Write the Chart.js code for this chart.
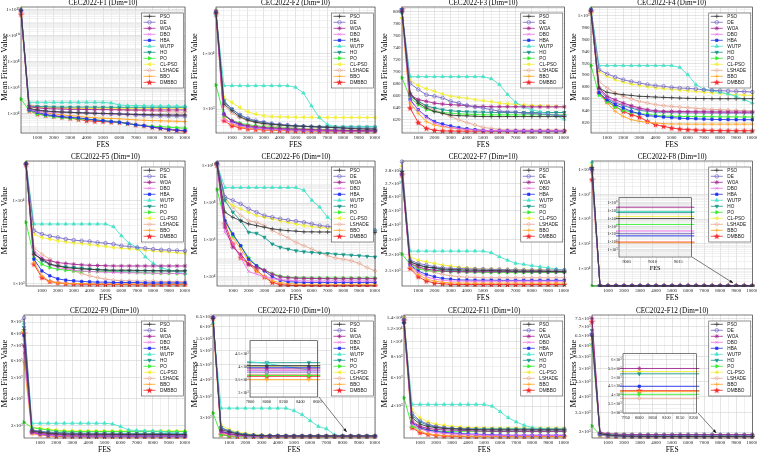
<!DOCTYPE html>
<html>
<head>
<meta charset="utf-8">
<script src="https://cdn.jsdelivr.net/npm/chart.js@4.4.0/dist/chart.umd.min.js"></script>
<style>
  body { margin: 0; background: #fff; }
  #page { position: relative; width: 757px; height: 457px; overflow: hidden; background: #fff; }
  canvas { position: absolute; }
</style>
</head>
<body>
<div id="page"></div>
<script>
// ---------- data ----------
const FES = [0,500,1000,1500,2000,2500,3000,3500,4000,4500,5000,5500,6000,6500,7000,7500,8000,8500,9000,9500,10000];
const ALGOS = ['PSO','DE','WOA','DBO','HBA','WUTP','HO','PO','CL-PSO','LSHADE','BBO','DMBBO'];
const X_TICKS = [1000,2000,3000,4000,5000,6000,7000,8000,9000,10000];
const X_LABELS = ['1000','2000','3000','4000','5000','6000','7000','8000','9000','10000'];

// one row per algorithm, in ALGOS order
const F1 = [
  [8.5e11,2.4e4,1.8e4,1.5e4,1.34e4,1.25e4,1.19e4,1.1e4,1.05e4,1.0e4,9.8e3,9.5e3,8.9e3,8.5e3,8.2e3,8.0e3,7.8e3,7.6e3,7.5e3,7.4e3,7.4e3],
  [8e11,2.15e4,1.6e4,1.45e4,1.34e4,1.25e4,1.19e4,1.1e4,1.05e4,1.0e4,9.5e3,9.0e3,8.9e3,8.2e3,7.5e3,7.0e3,6.6e3,6.3e3,6.1e3,6.0e3,5.9e3],
  [9e11,3.2e4,2.6e4,2.3e4,2.2e4,2.1e4,2.0e4,2.0e4,1.95e4,1.9e4,1.9e4,1.85e4,1.85e4,1.8e4,1.8e4,1.8e4,1.8e4,1.8e4,1.8e4,1.8e4,1.8e4],
  [7.5e11,2.15e4,1.34e4,1.25e4,1.2e4,1.19e4,1.15e4,1.1e4,1.05e4,1.0e4,9.5e3,9.0e3,8.5e3,8.0e3,7.8e3,7.6e3,7.4e3,7.2e3,7.0e3,6.8e3,6.6e3],
  [9e11,1.8e4,1.19e4,8.0e3,6.6e3,5.5e3,4.9e3,4.4e3,3.7e3,3.1e3,2.7e3,2.3e3,2.0e3,1.6e3,1.27e3,1.1e3,840,700,560,500,465],
  [1.1e12,7e4,7e4,7e4,7e4,7e4,7e4,7e4,7e4,7e4,7e4,6.2e4,4.4e4,3.9e4,3.9e4,3.8e4,3.7e4,3.6e4,3.6e4,3.5e4,3.5e4],
  [8e11,3.5e4,3.3e4,3.2e4,3.1e4,3.0e4,3.0e4,3.0e4,3.0e4,2.95e4,2.95e4,2.9e4,2.9e4,2.9e4,2.9e4,2.9e4,2.9e4,2.9e4,2.9e4,2.9e4,2.9e4],
  [1.26e5,1.6e4,8.9e3,6.6e3,5.4e3,4.5e3,4.1e3,3.7e3,3.4e3,3.1e3,2.7e3,2.3e3,2.0e3,1.6e3,1.27e3,1.1e3,1.0e3,940,840,760,700],
  [1.3e12,2.9e4,2.7e4,2.6e4,2.5e4,2.5e4,2.45e4,2.4e4,2.4e4,2.4e4,2.4e4,2.4e4,2.4e4,2.4e4,2.4e4,2.4e4,2.4e4,2.4e4,2.4e4,2.4e4,2.4e4],
  [7e11,4.4e4,3.5e4,3.0e4,2.8e4,2.6e4,2.5e4,2.4e4,2.3e4,2.2e4,2.1e4,2.0e4,1.9e4,1.8e4,1.7e4,1.6e4,1.5e4,1.4e4,1.3e4,1.25e4,1.2e4],
  [6e11,2.15e4,1.45e4,1.1e4,8.9e3,7.5e3,6.6e3,5.9e3,4.9e3,4.5e3,4.1e3,3.9e3,3.7e3,3.4e3,3.1e3,2.9e3,2.7e3,2.6e3,2.5e3,2.4e3,2.3e3],
  [4.4e11,1.6e4,8.9e3,7.0e3,5.9e3,5.0e3,4.1e3,3.4e3,2.7e3,2.4e3,2.3e3,2.1e3,2.0e3,1.7e3,1.27e3,1.1e3,840,700,560,470,410]
];
const F2 = [
  [5.5e4,1230,933,725,631,580,549,533,519,505,497,490,484,477,470,464,455,445,440,435,433],
  [6e4,1320,1000,789,680,620,580,549,530,515,500,490,480,470,465,460,455,452,450,448,445],
  [5.7e4,790,620,540,500,480,465,455,448,440,435,430,425,420,418,415,412,410,408,407,405],
  [5.0e4,650,560,500,470,450,440,432,425,420,418,415,412,410,408,407,406,405,405,404,404],
  [5.7e4,820,600,520,480,460,450,440,432,425,420,415,412,410,408,407,406,405,405,405,405],
  [5.0e4,2650,2650,2650,2650,2650,2650,2650,2650,2650,2480,1950,1150,700,530,477,477,477,477,477,477],
  [5.5e4,1420,1000,789,658,597,572,533,519,497,490,484,480,477,477,477,477,477,477,477,477],
  [2730,750,620,560,520,500,480,470,460,450,440,435,430,425,420,418,415,412,410,408,407],
  [6.1e4,1630,1320,1070,895,811,757,735,725,720,715,712,710,708,707,706,705,705,705,705,705],
  [5.3e4,1150,850,700,620,570,530,500,480,465,455,445,440,435,430,425,422,420,418,416,415],
  [5.7e4,700,540,480,450,435,425,418,414,410,408,406,405,404,403,403,402,402,401,401,401],
  [5.2e4,620,500,460,440,428,420,414,410,407,405,404,403,402,402,401,401,401,401,400,400]
];
const F3 = [
  [800,664,647,639,633,630,627,626,625.7,625,624.5,624.5,624.5,624.5,624.5,624.5,624.5,624.5,624.5,624.5,624.5],
  [802,680,670,661,658.6,655.7,650,647,643,640.4,638.7,636,633.6,632.5,631.9,630.2,629.6,629,628,626.8,626],
  [801,661,653,650,647,645.5,644.4,643.8,642.7,641.5,641.5,641,641,641,641,641,640.8,640.8,640.8,640.8,640.8],
  [800,651,636,623,614,609,606,604,603,602,601.5,601,601,600.8,600.7,600.7,600.6,600.6,600.5,600.5,600.5],
  [803,653,636,624.5,616,612,608.7,606,604,602.5,601.2,600.8,600.6,600.5,600.4,600.4,600.4,600.3,600.3,600.3,600.3],
  [798,691.4,691.4,691.4,691.4,691.4,691.4,691.4,691.4,691.4,691.4,688,678.4,661.4,648.4,640.4,636,632.5,629,625.7,620],
  [804,658.6,650,642.7,638.7,636,634.2,633,632.5,632,631.9,631.5,631.3,631.3,631.3,631.3,631.3,631.3,631.3,631.3,631.3],
  [689.7,655.7,644.4,636,633,631.3,630.2,629.1,628.5,627.9,627.4,627.4,627.4,627.4,627.4,627.4,627.4,627.4,627.4,627.4,627.4],
  [789,685.2,676.7,671,667.1,662.5,658.6,656.9,655.2,652.9,651.2,649.5,647.2,646.1,645,644,643,642.5,642,641.5,641],
  [801,658.6,650,641.5,636,630.2,624.5,619,614.3,610.4,606.4,604.7,603,602,601.9,601.9,601.9,601.9,601.9,601.9,601.9],
  [790,647.2,630.2,616,610.4,607.5,606,604,603,602,601.5,601,600.8,600.6,600.5,600.5,600.4,600.4,600.4,600.3,600.3],
  [804,638.7,614.3,604.7,601.5,600.5,600.3,600.2,600.1,600.1,600.1,600.1,600.1,600.1,600.1,600.1,600.1,600.1,600.1,600.1,600.1]
];
const F4 = [
  [1008,878,870.7,868.5,866.8,865.5,864,863.5,862.8,862.2,861.7,861.1,860.6,860.3,860.2,860,860,860,860,860,860],
  [1010,909,902,896.6,892,889,886.5,884,882,881,879,878,877.5,876.5,875,874,873.5,873,872.4,872,871.3],
  [1009,878,864,858.3,852.7,848.2,844.3,841.4,839.7,838.6,838.6,838.4,838.2,838,838,837.8,837.7,837.6,837.5,837.5,837.5],
  [1007,875,862,855,850,846,842,840,838.5,837.8,837.3,837,836.8,836.6,836.5,836.4,836.3,836.2,836.2,836.1,836],
  [1011,870,858,849.9,844.3,838.6,834.7,831.3,830.2,829,828,827,826.5,826,825.5,825,824.8,824.6,824.5,824.5,824.5],
  [1012,916,916,916,916,916,916,916,916,916,916,913,900.6,883.7,876,873.5,870.7,867.9,864,858.3,852.7],
  [1009,875,861,852.7,848.2,844.3,840.3,838.6,837.5,837,836.5,836.2,836,836,835.9,835.9,835.8,835.8,835.8,835.8,835.8],
  [916,866,855,846,840.3,837,834.7,833.6,832,830.8,830.2,830,829.8,829.6,829.5,829.4,829.3,829.2,829.1,829,829],
  [1013,906,897.7,892,888,885,882.5,880.3,878.6,877.2,875.8,874.7,873.5,872.4,871.3,870.2,869,867.9,866.8,866.2,865.6],
  [1006,889,878,869.6,864,859.4,855.5,852.7,849.9,848.2,847,845.9,844.8,843.7,842.5,842,841.4,840.8,840.3,839.7,838.6],
  [1004,869.6,852.7,838.6,830,824.5,821.7,820,818.9,817.8,817.2,817.2,817,817,817,817,817,817,817,817,817],
  [1008,870,855.5,847,838.6,833,829,821.7,816,813.2,810.4,808.7,807.6,807,806.5,806.2,806,806,805.8,805.8,805.8]
];
const F5 = [
  [2.75e4,2260,1970,1710,1630,1560,1530,1500,1490,1470,1460,1450,1450,1450,1440,1440,1430,1430,1420,1420,1420],
  [2.8e4,4340,3950,3740,3600,3440,3340,3280,3220,3130,3070,2990,2850,2800,2720,2670,2600,2550,2530,2500,2480],
  [2.7e4,2260,1970,1880,1790,1750,1710,1680,1660,1650,1640,1630,1630,1630,1630,1630,1630,1630,1630,1630,1630],
  [2.6e4,2480,2060,1710,1560,1500,1450,1420,1400,1380,1370,1360,1350,1350,1340,1340,1330,1330,1330,1320,1320],
  [2.8e4,1970,1420,1240,1140,1100,1080,1060,1050,1040,1040,1030,1030,1030,1030,1020,1020,1020,1020,1020,1020],
  [2.85e4,5230,5230,5230,5230,5230,5230,5230,5230,5230,5230,4850,3770,3050,2720,2100,1750,1560,1450,1370,1320],
  [2.75e4,2370,1880,1710,1630,1590,1560,1530,1500,1470,1450,1420,1420,1420,1420,1420,1420,1420,1420,1420,1420],
  [5470,2060,1710,1560,1490,1450,1420,1400,1400,1400,1400,1390,1380,1370,1360,1350,1340,1330,1330,1320,1320],
  [2.9e4,3950,3600,3440,3280,3190,3100,3050,2960,2880,2800,2720,2670,2630,2580,2530,2480,2440,2400,2350,2310],
  [2.7e4,2720,2260,1970,1710,1560,1420,1320,1240,1180,1130,1100,1080,1080,1070,1070,1070,1060,1060,1060,1060],
  [2.8e4,1790,1240,1060,1020,1000,1000,1000,995,995,995,990,990,990,990,990,990,990,990,990,990],
  [2.75e4,1710,1180,1060,1020,1000,990,985,980,980,975,975,975,975,970,970,970,970,970,970,970]
];
const F6 = [
  [1.4e10,3.2e7,1.7e7,1.1e7,7.4e6,6e6,4.9e6,4e6,3.5e6,3.2e6,3e6,2.75e6,2.75e6,2.7e6,2.7e6,2.65e6,2.6e6,2.6e6,2.55e6,2.5e6,2.5e6],
  [1.5e10,2.1e8,1.4e8,9.1e7,4.9e7,3.2e7,2.1e7,1.7e7,1.4e7,1.2e7,1.05e7,9.1e6,7.4e6,6e6,5.4e6,4.9e6,4.5e6,4.2e6,4e6,3.5e6,3.2e6],
  [1.4e10,4.9e6,4e5,1.7e5,4.9e4,3.2e4,2.3e4,1.4e4,1e4,9e3,8.5e3,8.3e3,8.2e3,8.1e3,8e3,8e3,8e3,8e3,8e3,8e3,8e3],
  [1.3e10,2.6e6,6e5,1.1e5,1.95e4,1.4e4,1e4,8e3,7e3,6.5e3,6.2e3,6.1e3,6e3,6e3,6e3,6e3,6e3,6e3,6e3,6e3,6e3],
  [1.3e10,1.1e7,2.1e6,4.9e5,9.1e4,4e4,2.1e4,1e4,6.5e3,5.5e3,5.2e3,5e3,5e3,5e3,5e3,5e3,5e3,5e3,5e3,5e3,5e3],
  [1.2e10,6.9e8,6.9e8,6.9e8,6.9e8,6.9e8,6.9e8,6.9e8,6.9e8,6.9e8,6.9e8,4.9e8,1.4e8,6e7,1.7e7,8.1e6,6e6,4.9e6,4.4e6,4e6,3.5e6],
  [1.4e10,1.4e8,3.2e7,1.1e7,2.6e6,2.3e6,1.4e6,6e5,4e5,3.2e5,2.6e5,2.3e5,2.1e5,1.95e5,1.86e5,1.7e5,1.6e5,1.5e5,1.4e5,1.3e5,1.2e5],
  [5.4e8,1.1e7,1.7e6,4.9e5,1.1e5,4e4,2.3e4,1.5e4,1.1e4,9.5e3,9e3,8.8e3,8.6e3,8.5e3,8.5e3,8.5e3,8.5e3,8.5e3,8.5e3,8.5e3,8.5e3],
  [1.3e10,1.4e8,7.4e7,4.9e7,3.2e7,2.1e7,1.7e7,1.4e7,1.1e7,9.1e6,7.4e6,6e6,5.4e6,4.9e6,4.5e6,4.2e6,4e6,3.7e6,3.5e6,3.3e6,3.2e6],
  [1.3e10,2.1e8,6e7,2.1e7,1.1e7,9.1e6,6e6,3.2e6,2.1e6,1.3e6,7.4e5,4.9e5,3.2e5,2.1e5,1.4e5,1.05e5,9.1e4,7.4e4,5.4e4,3.2e4,2.1e4],
  [1.2e10,1.7e7,1.4e6,3.2e5,7.4e4,2.1e4,1e4,6e3,4.8e3,4.3e3,4.1e3,4e3,4e3,4e3,4e3,4e3,4e3,4e3,4e3,4e3,4e3],
  [1.1e10,7.4e6,6e5,1.1e5,4.9e4,2.3e4,1e4,5e3,3.8e3,3.5e3,3.4e3,3.35e3,3.3e3,3.3e3,3.3e3,3.3e3,3.3e3,3.3e3,3.3e3,3.3e3,3.3e3]
];
const F7 = [
  [2795,2157,2137,2124,2120,2112,2110,2108,2106,2106,2104,2104,2102,2102,2100,2100,2100,2100,2098,2098,2096],
  [2875,2167,2147,2137,2126,2120,2116,2116,2114,2112,2112,2110,2110,2108,2108,2106,2106,2106,2106,2106,2106],
  [2780,2147,2126,2112,2106,2100,2098,2096,2096,2096,2096,2096,2096,2096,2096,2096,2096,2096,2096,2096,2096],
  [2760,2133,2092,2066,2052,2045,2041,2041,2040,2040,2040,2040,2040,2040,2040,2040,2040,2040,2040,2040,2040],
  [2770,2137,2100,2080,2066,2056,2052,2047,2047,2046,2046,2046,2045,2045,2045,2045,2045,2045,2045,2045,2045],
  [2715,2224,2224,2224,2224,2224,2224,2224,2224,2224,2224,2214,2188,2167,2147,2141,2133,2126,2120,2112,2106],
  [2790,2157,2137,2124,2116,2106,2104,2102,2100,2100,2100,2100,2098,2098,2098,2096,2096,2096,2096,2096,2096],
  [2205,2141,2112,2104,2100,2098,2096,2096,2094,2094,2092,2092,2092,2092,2092,2092,2092,2092,2092,2092,2092],
  [2838,2188,2167,2157,2147,2137,2131,2124,2120,2116,2112,2112,2111,2110,2110,2109,2108,2108,2107,2106,2106],
  [2750,2147,2120,2106,2092,2080,2072,2066,2064,2062,2060,2060,2060,2060,2060,2060,2060,2060,2060,2060,2060],
  [2795,2126,2080,2052,2041,2033,2030,2029,2029,2029,2029,2029,2029,2029,2029,2029,2029,2029,2029,2029,2029],
  [2768,2116,2066,2041,2029,2025,2021,2021,2021,2021,2021,2021,2021,2021,2021,2021,2021,2021,2021,2021,2021]
];
const F8 = [
  [1.2e8,2025,2025,2025,2025,2025,2025,2025,2025,2025,2025,2025,2025,2025,2025,2025,2025,2025,2025,2025,2025],
  [1.0e8,2021,2021,2021,2021,2021,2021,2021,2021,2021,2021,2021,2021,2021,2021,2021,2021,2021,2021,2021,2021],
  [9e7,2035,2035,2035,2035,2035,2035,2035,2035,2035,2035,2035,2035,2035,2035,2035,2035,2035,2035,2035,2035],
  [8e7,2022,2022,2022,2022,2022,2022,2022,2022,2022,2022,2022,2022,2022,2022,2022,2022,2022,2022,2022,2022],
  [1.1e8,2021,2021,2021,2021,2021,2021,2021,2021,2021,2021,2021,2021,2021,2021,2021,2021,2021,2021,2021,2021],
  [2.0e8,2030,2030,2030,2030,2030,2030,2030,2030,2030,2030,2030,2030,2030,2030,2030,2030,2030,2030,2030,2030],
  [9.5e7,2029,2029,2029,2029,2029,2029,2029,2029,2029,2029,2029,2029,2029,2029,2029,2029,2029,2029,2029,2029],
  [2030,2024,2024,2024,2024,2024,2024,2024,2024,2024,2024,2024,2024,2024,2024,2024,2024,2024,2024,2024,2024],
  [1.6e8,2027,2027,2027,2027,2027,2027,2027,2027,2027,2027,2027,2027,2027,2027,2027,2027,2027,2027,2027,2027],
  [7e7,2022,2022,2022,2022,2022,2022,2022,2022,2022,2022,2022,2022,2022,2022,2022,2022,2022,2022,2022,2022],
  [1.3e8,2020,2020,2020,2020,2020,2020,2020,2020,2020,2020,2020,2020,2020,2020,2020,2020,2020,2020,2020,2020],
  [3.9e7,2020,2020,2020,2020,2020,2020,2020,2020,2020,2020,2020,2020,2020,2020,2020,2020,2020,2020,2020,2020]
];
const F9 = [
  [8300,2845,2807,2778,2760,2750,2749,2748,2747,2746,2745,2744,2743,2742,2741,2740,2740,2740,2740,2740,2740],
  [9400,2875,2826,2800,2780,2770,2760,2755,2750,2745,2740,2738,2736,2734,2732,2731,2730,2730,2730,2730,2730],
  [7000,2807,2770,2749,2740,2730,2728,2726,2725,2724,2723,2722,2721,2720,2720,2720,2720,2720,2720,2720,2720],
  [6500,2780,2740,2720,2711,2705,2703,2702,2701,2700,2700,2700,2700,2700,2700,2700,2700,2700,2700,2700,2700],
  [7800,2800,2749,2720,2711,2700,2697,2695,2694,2693,2692,2691,2690,2690,2690,2690,2690,2690,2690,2690,2690],
  [8900,3085,3085,3085,3085,3085,3085,3085,3085,3085,3085,3063,2979,2875,2855,2845,2840,2830,2800,2780,2750],
  [8500,2875,2826,2810,2800,2790,2780,2778,2776,2775,2774,2773,2772,2771,2770,2770,2770,2770,2770,2770,2770],
  [3117,2948,2906,2875,2845,2835,2826,2826,2826,2826,2826,2826,2826,2826,2826,2826,2826,2826,2826,2826,2826],
  [8200,2948,2927,2896,2875,2855,2850,2845,2845,2845,2845,2845,2845,2845,2845,2845,2845,2845,2845,2845,2845],
  [7500,2826,2778,2749,2730,2720,2715,2710,2706,2704,2702,2701,2700,2700,2700,2700,2700,2700,2700,2700,2700],
  [5900,2760,2720,2700,2690,2684,2682,2681,2680,2680,2680,2680,2680,2680,2680,2680,2680,2680,2680,2680,2680],
  [8000,2807,2749,2711,2684,2680,2678,2677,2676,2675,2675,2675,2675,2675,2675,2675,2675,2675,2675,2675,2675]
];
const F10 = [
  [6400,2729,2682,2641,2620,2610,2605,2603,2602,2601,2600,2600,2600,2600,2600,2600,2600,2600,2600,2600,2600],
  [6450,2764,2695,2650,2625,2612,2606,2603,2601,2600,2599,2598,2598,2598,2597,2597,2597,2597,2597,2597,2597],
  [6400,2682,2641,2620,2608,2602,2599,2597,2596,2595,2595,2595,2595,2595,2595,2595,2595,2595,2595,2595,2595],
  [6350,2661,2626,2610,2600,2596,2594,2593,2592,2592,2592,2592,2592,2592,2592,2592,2592,2592,2592,2592,2592],
  [6450,2695,2650,2620,2605,2600,2598,2597,2596,2596,2596,2596,2596,2596,2596,2596,2596,2596,2596,2596,2596],
  [6200,3218,3218,3218,3218,3218,3218,3218,3218,3218,3155,3061,2923,2797,2748,2626,2600,2598,2596,2595,2594],
  [6400,2775,2700,2660,2635,2620,2612,2608,2605,2604,2603,2603,2603,2603,2603,2603,2603,2603,2603,2603,2603],
  [3100,2626,2605,2598,2594,2592,2590,2589,2588,2588,2588,2588,2588,2588,2588,2588,2588,2588,2588,2588,2588],
  [6300,2820,2729,2680,2650,2630,2618,2610,2606,2604,2602,2601,2600,2600,2600,2600,2600,2600,2600,2600,2600],
  [6400,2709,2650,2620,2605,2598,2594,2592,2591,2590,2590,2590,2590,2590,2590,2590,2590,2590,2590,2590,2590],
  [6100,2641,2610,2596,2590,2587,2585,2584,2583,2583,2583,2583,2583,2583,2583,2583,2583,2583,2583,2583,2583],
  [6420,2626,2600,2592,2588,2586,2585,2584,2584,2584,2584,2584,2584,2584,2584,2584,2584,2584,2584,2584,2584]
];
const F11 = [
  [1.3e4,3400,3100,3000,2950,2920,2900,2890,2880,2870,2860,2860,2860,2860,2860,2860,2860,2860,2860,2860,2860],
  [1.4e4,3600,3250,3100,3000,2950,2920,2900,2890,2880,2870,2865,2860,2860,2860,2860,2860,2860,2860,2860,2860],
  [1.35e4,3200,3000,2920,2880,2860,2850,2840,2830,2820,2810,2800,2800,2800,2800,2800,2800,2800,2800,2800,2800],
  [1.25e4,3100,2900,2800,2750,2720,2700,2690,2680,2670,2660,2650,2650,2650,2650,2650,2650,2650,2650,2650,2650],
  [1.3e4,3150,2950,2850,2800,2760,2740,2720,2700,2690,2680,2670,2660,2650,2650,2650,2650,2650,2650,2650,2650],
  [1.3e4,4100,4100,4100,4100,4100,4100,4100,4100,4100,4100,4000,3700,3400,3200,3050,2950,2900,2880,2870,2860],
  [1.35e4,3500,3200,3050,2980,2940,2920,2910,2900,2900,2900,2900,2900,2900,2900,2900,2900,2900,2900,2900,2900],
  [4500,3000,2900,2850,2820,2800,2790,2790,2790,2790,2790,2790,2790,2790,2790,2790,2790,2790,2790,2790,2790],
  [1.4e4,3800,3400,3200,3100,3050,3000,2980,2960,2950,2940,2930,2930,2930,2930,2930,2930,2930,2930,2930,2930],
  [1.3e4,3300,3000,2900,2800,2750,2700,2680,2660,2650,2640,2640,2640,2640,2640,2640,2640,2640,2640,2640,2640],
  [1.2e4,3000,2800,2700,2660,2640,2630,2620,2610,2610,2610,2610,2610,2610,2610,2610,2610,2610,2610,2610,2610],
  [1.35e4,2950,2750,2680,2640,2620,2610,2605,2600,2600,2600,2600,2600,2600,2600,2600,2600,2600,2600,2600,2600]
];
const F12 = [
  [6500,2961,2930,2915,2905,2900,2898,2897,2896,2895,2895,2895,2895,2895,2895,2895,2895,2895,2895,2895,2895],
  [6600,2950,2925,2912,2905,2902,2900,2899,2898,2898,2898,2898,2898,2898,2898,2898,2898,2898,2898,2898,2898],
  [7500,2990,2960,2950,2945,2942,2941,2940,2940,2940,2940,2940,2940,2940,2940,2940,2940,2940,2940,2940,2940],
  [6700,2940,2915,2905,2900,2898,2897,2896,2895,2895,2895,2895,2895,2895,2895,2895,2895,2895,2895,2895,2895],
  [6600,2945,2920,2910,2905,2902,2900,2900,2900,2900,2900,2900,2900,2900,2900,2900,2900,2900,2900,2900,2900],
  [6100,2960,2950,2945,2942,2940,2940,2940,2940,2940,2940,2940,2940,2940,2940,2940,2940,2940,2940,2940,2940],
  [6800,2965,2945,2938,2935,2933,2932,2931,2930,2930,2930,2930,2930,2930,2930,2930,2930,2930,2930,2930,2930],
  [3150,2930,2910,2900,2897,2895,2895,2895,2895,2895,2895,2895,2895,2895,2895,2895,2895,2895,2895,2895,2895],
  [6000,2975,2955,2948,2944,2942,2941,2940,2940,2940,2940,2940,2940,2940,2940,2940,2940,2940,2940,2940,2940],
  [6500,2935,2905,2895,2890,2888,2888,2888,2888,2888,2888,2888,2888,2888,2888,2888,2888,2888,2888,2888,2888],
  [6300,2925,2905,2898,2895,2893,2893,2893,2893,2893,2893,2893,2893,2893,2893,2893,2893,2893,2893,2893,2893],
  [7300,2930,2905,2898,2895,2894,2893,2893,2893,2893,2893,2893,2893,2893,2893,2893,2893,2893,2893,2893,2893]
];

const TITLES = ['CEC2022-F1 (Dim=10)','CEC2022-F2 (Dim=10)','CEC2022-F3 (Dim=10)','CEC2022-F4 (Dim=10)',
  'CEC2022-F5 (Dim=10)','CEC2022-F6 (Dim=10)','CEC2022-F7 (Dim=10)','CEC2022-F8 (Dim=10)',
  'CEC2022-F9 (Dim=10)','CEC2022-F10 (Dim=10)','CEC2022-F11 (Dim=10)','CEC2022-F12 (Dim=10)'];
const Y_MIN = [300, 370, 597, 802, 935, 3.2e3, 2012, 2000, 2640, 2560, 2550, 2860];
const Y_MAX = [1.6e12, 7e4, 808, 1015, 3e4, 1.9e10, 2880, 2.2e8, 9700, 6570, 1.45e4, 7700];
const Y_TICKS = [
  [1e4,1e6,1e8,1e10,1e12],
  [1e3,1e4],
  [620,640,660,680,700,720,740,760,780,800],
  [820,840,860,880,900,920,940,960,980,1000],
  [1e3,1e4],
  [1e4,1e6,1e8,1e10],
  [2100,2200,2300,2400,2500,2600,2700,2800],
  [1e4,1e5,1e6,1e7,1e8],
  [3000,4000,5000,6000,7000,8000,9000],
  [3000,3500,4000,4500,5000,5500,6000,6500],
  [4000,6000,8000,10000,12000,14000],
  [3000,3500,4000,4500,5000,5500,6000,6500,7000,7500]
];
const Y_LABELS = [
  ['1×10⁴','1×10⁶','1×10⁸','1×10¹⁰','1×10¹²'],
  ['1×10³','1×10⁴'],
  ['620','640','660','680','700','720','740','760','780','800'],
  ['820','840','860','880','900','920','940','960','980','1×10³'],
  ['1×10³','1×10⁴'],
  ['1×10⁴','1×10⁶','1×10⁸','1×10¹⁰'],
  ['2.1×10³','2.2×10³','2.3×10³','2.4×10³','2.5×10³','2.6×10³','2.7×10³','2.8×10³'],
  ['1×10⁴','1×10⁵','1×10⁶','1×10⁷','1×10⁸'],
  ['3×10³','4×10³','5×10³','6×10³','7×10³','8×10³','9×10³'],
  ['3×10³','3.5×10³','4×10³','4.5×10³','5×10³','5.5×10³','6×10³','6.5×10³'],
  ['4×10³','6×10³','8×10³','1×10⁴','1.2×10⁴','1.4×10⁴'],
  ['3×10³','3.5×10³','4×10³','4.5×10³','5×10³','5.5×10³','6×10³','6.5×10³','7×10³','7.5×10³']
];
const Y_LOG = [true,true,false,false,true,true,true,true,true,true,true,true];
const DATA = [F1,F2,F3,F4,F5,F6,F7,F8,F9,F10,F11,F12];

const F8_ZOOM_X = [9000, 9500];
const F8_ZOOM = [[1e7,1e7],[1.3e5,1.3e5],[2.8e8,2.8e8],[2.6e5,2.6e5],[6.2e4,6.2e4],[8.1e7,8.1e7],
  [6.2e7,6.2e7],[1.8e6,1.8e6],[1.9e7,1.9e7],[7.6e3,7.6e3],[8.9e3,8.9e3],[1e4,1e4]];
const F8_ZOOM_TICKS = [1e3,1e4,1e5,1e6,1e7,1e8,1e9];
const F8_ZOOM_LABELS = ['1×10³','1×10⁴','1×10⁵','1×10⁶','1×10⁷','1×10⁸','1×10⁹'];
const F10_ZOOM_X = [7500, 8000, 8500, 9000];
const F10_ZOOM = [[4050,4050,4050,4050],[3800,3800,3800,3800],[3925,3925,3925,3925],[3860,3860,3860,3860],
  [3985,3985,3985,3985],[4300,4130,3880,3800],[4160,4160,4160,4160],[3670,3670,3670,3670],
  [4010,4010,4010,4010],[3710,3710,3710,3710],[3510,3510,3510,3510],[3640,3640,3640,3640]];
const F10_ZOOM_TICKS = [3000,3500,4000,4500];
const F10_ZOOM_LABELS = ['3×10³','3.5×10³','4×10³','4.5×10³'];
const F12_ZOOM_X = [7500, 8000, 8500];
const F12_ZOOM = [null,null,[5500,5500,5500],null,[4500,4500,4500],null,[5200,5200,5200],
  [4050,4050,4050],[5330,5330,5330],[3830,3830,3830],[4200,4200,4200],[4250,4250,4250]];
const F12_ZOOM_TICKS = [3000,3500,4000,4500,5000,5500,6000];
const F12_ZOOM_LABELS = ['3×10³','3.5×10³','4×10³','4.5×10³','5×10³','5.5×10³','6×10³'];

// ---------- styles & layout ----------
const COLORS = ['#3a3a3a','#7468c6','#a3268f','#ee6fe8','#2433ee','#47e2c8','#18998b','#33ee2c','#f3ee3a','#e8a692','#ffa41f','#f42628'];
const FILLED = [false,false,false,false,true,true,true,true,true,false,false,true];
const ROTS = [0,0,0,0,0,0,180,90,-90,0,0,0];
const SIZES = [2.2,1.8,2.2,2.0,1.7,2.0,2.0,2.0,2.0,2.0,2.2,2.0];
const SERIF = "'Liberation Serif', 'Times New Roman', serif";
const SANS = "'Liberation Sans', Arial, sans-serif";
const GRID_MAJOR = '#c9c9c9', GRID_MINOR = '#e3e3e3';

const CANVAS_BOX = [
  [0,0,190,150],[190,0,190,150],[380,0,189,150],[569,0,188,150],
  [0,150,190,153],[190,150,190,153],[380,150,189,153],[569,150,188,153],
  [0,303,190,154],[190,303,190,154],[380,303,189,154],[569,303,188,154]];
const PLOT_BOX = [
  [21,7,185,133],[216,7,375,133],[402,7,565,133],[591,7,753,133],
  [26,161,185,286],[217,161,375,286],[402,161,565,286],[592,161,753,286],
  [24,315,185,438],[213,315,375,438],[404,315,565,438],[592,315,753,438]];

// filled pentagram for DMBBO
const STAR = (() => {
  const c = document.createElement('canvas'); c.width = 7; c.height = 7;
  const g = c.getContext('2d'); g.fillStyle = COLORS[11]; g.beginPath();
  for (let i = 0; i < 10; i++) {
    const r = i % 2 ? 1.4 : 3.4, a = -Math.PI / 2 + i * Math.PI / 5;
    g.lineTo(3.5 + r * Math.cos(a), 3.7 + r * Math.sin(a));
  }
  g.closePath(); g.fill(); return c;
})();
const MARKERS = ['cross','circle','star','crossRot','rect','triangle','triangle','triangle','triangle','rectRot','cross',STAR];

const page = document.getElementById('page');
function addCanvas(x, y, w, h) {
  const c = document.createElement('canvas');
  c.width = w; c.height = h;
  c.style.left = x + 'px'; c.style.top = y + 'px';
  c.style.width = w + 'px'; c.style.height = h + 'px';
  page.appendChild(c);
  return c;
}

const same = (a, b) => Math.abs(a - b) <= Math.abs(b) * 1e-9;
function gridTicks(log, min, max, majors, step) {
  const v = majors.slice();
  if (log) {
    for (let e = Math.floor(Math.log10(min)); e <= Math.ceil(Math.log10(max)); e++)
      for (let m = 1; m < 10; m++) v.push(m * Math.pow(10, e));
  } else {
    for (let t = Math.ceil(min / step) * step; t <= max; t += step) v.push(t);
  }
  const s = v.filter(t => t >= min && t <= max).sort((a, b) => a - b);
  return s.filter((t, j) => j === 0 || !same(t, s[j - 1]));
}

function makeDatasets(xs, rows) {
  const out = [];
  ALGOS.forEach((name, k) => {
    if (!rows[k]) return;
    out.push({
      label: name,
      data: xs.map((x, j) => ({ x, y: rows[k][j] })),
      borderColor: COLORS[k],
      backgroundColor: COLORS[k],
      borderWidth: 0.9,
      pointStyle: MARKERS[k],
      pointRotation: ROTS[k],
      pointRadius: SIZES[k],
      pointBorderWidth: 0.7,
      pointBorderColor: COLORS[k],
      pointBackgroundColor: FILLED[k] ? COLORS[k] : 'rgba(0,0,0,0)',
      tension: 0,
      clip: { left: 3, top: 3, right: 3, bottom: 1 }
    });
  });
  return out;
}

// legend box, title, axis titles, frame, arrow
const panelPlugin = {
  id: 'panel',
  afterDatasetsDraw(chart, args, o) {
    const { ctx, chartArea: a } = chart;
    ctx.save();
    const w = 42, rowH = 6, h = 75;
    const x0 = a.right - w - 1.5, y0 = a.top + 6;
    ctx.fillStyle = '#fff'; ctx.fillRect(x0, y0, w, h);
    ctx.strokeStyle = '#2b2b2b'; ctx.lineWidth = 0.5; ctx.strokeRect(x0, y0, w, h);
    ctx.font = '4.7px ' + SANS; ctx.textBaseline = 'middle'; ctx.textAlign = 'left';
    ALGOS.forEach((name, k) => {
      const y = y0 + 3.3 + k * rowH;
      ctx.strokeStyle = COLORS[k]; ctx.lineWidth = 0.8;
      ctx.beginPath(); ctx.moveTo(x0 + 2, y); ctx.lineTo(x0 + 14, y); ctx.stroke();
      ctx.lineWidth = 0.7;
      ctx.fillStyle = FILLED[k] ? COLORS[k] : 'rgba(0,0,0,0)';
      Chart.helpers.drawPoint(ctx, { pointStyle: MARKERS[k], rotation: ROTS[k], radius: SIZES[k], borderWidth: 0.7 }, x0 + 8, y);
      ctx.fillStyle = '#111'; ctx.fillText(name, x0 + 18.5, y + 0.2);
    });
    if (o.arrow) {
      const [fx, fy] = o.arrow.from;
      const tx = chart.scales.x.getPixelForValue(o.arrow.x), ty = a.bottom - o.arrow.dy;
      const ang = Math.atan2(ty - fy, tx - fx);
      ctx.strokeStyle = '#222'; ctx.fillStyle = '#111'; ctx.lineWidth = 0.6;
      ctx.beginPath(); ctx.moveTo(fx, fy); ctx.lineTo(tx, ty); ctx.stroke();
      ctx.beginPath(); ctx.moveTo(tx, ty);
      ctx.lineTo(tx - 4 * Math.cos(ang - 0.4), ty - 4 * Math.sin(ang - 0.4));
      ctx.lineTo(tx - 4 * Math.cos(ang + 0.4), ty - 4 * Math.sin(ang + 0.4));
      ctx.closePath(); ctx.fill();
    }
    ctx.restore();
  },
  afterDraw(chart, args, o) {
    const { ctx, chartArea: a } = chart;
    ctx.save();
    ctx.strokeStyle = '#262626'; ctx.lineWidth = 0.6;
    ctx.strokeRect(a.left, a.top, a.right - a.left, a.bottom - a.top);
    ctx.fillStyle = '#000'; ctx.textAlign = 'center';
    ctx.font = '7.2px ' + SERIF; ctx.textBaseline = 'bottom';
    ctx.fillText(o.title, (a.left + a.right) / 2, a.top - 0.2);
    ctx.font = '7.5px ' + SERIF; ctx.textBaseline = 'middle';
    ctx.fillText('FES', (a.left + a.right) / 2, a.bottom + 12);
    ctx.translate(5, (a.top + a.bottom) / 2 - 3); ctx.rotate(-Math.PI / 2);
    ctx.font = '8.6px ' + SERIF;
    ctx.fillText('Mean Fitness Value', 0, 0);
    ctx.restore();
  }
};

function yScale(log, min, max, majors, labels, step, width, fontSize) {
  const ticks = gridTicks(log, min, max, majors, step);
  return {
    type: log ? 'logarithmic' : 'linear', min, max,
    afterBuildTicks: s => { s.ticks = ticks.map(v => ({ value: v })); },
    afterFit: s => { s.width = width; s.paddingTop = 0; s.paddingBottom = 0; },
    ticks: {
      autoSkip: false, padding: 1.5, color: '#1a1a1a', font: { family: SERIF, size: fontSize },
      callback: v => { const j = majors.findIndex(m => same(v, m)); return j < 0 ? '' : labels[j]; }
    },
    grid: { drawTicks: false, lineWidth: 0.5,
      color: c => (c.tick && majors.some(m => same(c.tick.value, m))) ? GRID_MAJOR : GRID_MINOR },
    border: { display: false }
  };
}
function xScale(min, max, ticks, majors, labels, height, fontSize) {
  return {
    type: 'linear', min, max,
    afterBuildTicks: s => { s.ticks = ticks.map(v => ({ value: v })); },
    afterFit: s => { s.height = height; s.paddingLeft = 0; s.paddingRight = 0; },
    ticks: {
      autoSkip: false, maxRotation: 0, padding: 2, color: '#1a1a1a', font: { family: SERIF, size: fontSize },
      callback: v => { const j = majors.findIndex(m => same(v, m)); return j < 0 ? '' : labels[j]; }
    },
    grid: { drawTicks: false, lineWidth: 0.5,
      color: c => (c.tick && majors.some(m => same(c.tick.value, m))) ? GRID_MAJOR : GRID_MINOR },
    border: { display: false }
  };
}

const ARROWS = { 7: { corner: [692, 257], x: 8800, dy: 3 }, 9: { corner: [319, 397], x: 8250, dy: 6 }, 11: { corner: [698, 413], x: 7750, dy: 5 } };

for (let i = 0; i < 12; i++) {
  const [cx, cy, cw, ch] = CANVAS_BOX[i];
  const [l, t, r, b] = PLOT_BOX[i];
  const cv = addCanvas(cx, cy, cw, ch);
  const arrow = ARROWS[i] ? { from: [ARROWS[i].corner[0] - cx, ARROWS[i].corner[1] - cy], x: ARROWS[i].x, dy: ARROWS[i].dy } : null;
  new Chart(cv, {
    type: 'line',
    data: { datasets: makeDatasets(FES, DATA[i]) },
    options: {
      responsive: false, animation: false, events: [],
      layout: { padding: { left: 0, top: t - cy, right: cx + cw - r, bottom: 0 } },
      plugins: { legend: { display: false }, tooltip: { enabled: false }, panel: { title: TITLES[i], arrow } },
      scales: {
        x: xScale(0, 10000, FES, X_TICKS, X_LABELS, cy + ch - b, 4.9),
        y: yScale(Y_LOG[i], Y_MIN[i], Y_MAX[i], Y_TICKS[i], Y_LABELS[i], 5, l - cx, 5.0)
      }
    },
    plugins: [panelPlugin]
  });
}

// ---------- insets ----------
const insetPlugin = {
  id: 'inset',
  beforeDraw(chart) {
    const { ctx, chartArea: a } = chart;
    ctx.save(); ctx.fillStyle = '#fff'; ctx.fillRect(a.left, a.top, a.right - a.left, a.bottom - a.top); ctx.restore();
  },
  afterDraw(chart, args, o) {
    const { ctx, chartArea: a } = chart;
    ctx.save();
    ctx.strokeStyle = '#262626'; ctx.lineWidth = 0.6;
    ctx.strokeRect(a.left, a.top, a.right - a.left, a.bottom - a.top);
    if (o.xTitle) {
      ctx.fillStyle = '#000'; ctx.textAlign = 'center'; ctx.textBaseline = 'middle';
      ctx.font = '6.4px ' + SERIF; ctx.fillText('FES', (a.left + a.right) / 2, a.bottom + 11);
    }
    ctx.restore();
  }
};
const INSETS = [
  { canvas: [598, 193, 98, 82], plot: [619, 197, 692, 257], xs: F8_ZOOM_X, rows: F8_ZOOM, xmin: 9003.5, xmax: 9017.5,
    xt: [9005, 9010, 9015], xl: ['9005', '9010', '9015'], log: true, ymin: 125, ymax: 4.6e9,
    yt: F8_ZOOM_TICKS, yl: F8_ZOOM_LABELS, xTitle: true },
  { canvas: [222, 336, 100, 70], plot: [250, 340, 319, 397], xs: F10_ZOOM_X, rows: F10_ZOOM, xmin: 7800, xmax: 8600,
    xt: [7800, 8000, 8200, 8400, 8600], xl: ['7800', '8000', '8200', '8400', '8600'], log: false, ymin: 2850, ymax: 5000,
    yt: F10_ZOOM_TICKS, yl: F10_ZOOM_LABELS, xTitle: false },
  { canvas: [597, 349, 104, 72], plot: [623, 353, 698, 413], xs: F12_ZOOM_X, rows: F12_ZOOM, xmin: 7940, xmax: 8210,
    xt: [7950, 8000, 8050, 8100, 8150, 8200], xl: ['7950', '8000', '8050', '8100', '8150', '8200'], log: false, ymin: 3000, ymax: 6330,
    yt: F12_ZOOM_TICKS, yl: F12_ZOOM_LABELS, xTitle: false }
];
INSETS.forEach(s => {
  const [cx, cy, cw, ch] = s.canvas;
  const [l, t, r, b] = s.plot;
  const cv = addCanvas(cx, cy, cw, ch);
  new Chart(cv, {
    type: 'line',
    data: { datasets: makeDatasets(s.xs, s.rows) },
    options: {
      responsive: false, animation: false, events: [],
      layout: { padding: { left: 0, top: t - cy, right: cx + cw - r, bottom: 0 } },
      plugins: { legend: { display: false }, tooltip: { enabled: false }, inset: { xTitle: s.xTitle } },
      scales: {
        x: xScale(s.xmin, s.xmax, s.xt, s.xt, s.xl, cy + ch - b, 4.3),
        y: yScale(s.log, s.ymin, s.ymax, s.yt, s.yl, 250, l - cx, 4.3)
      }
    },
    plugins: [insetPlugin]
  });
});
</script>
</body>
</html>
